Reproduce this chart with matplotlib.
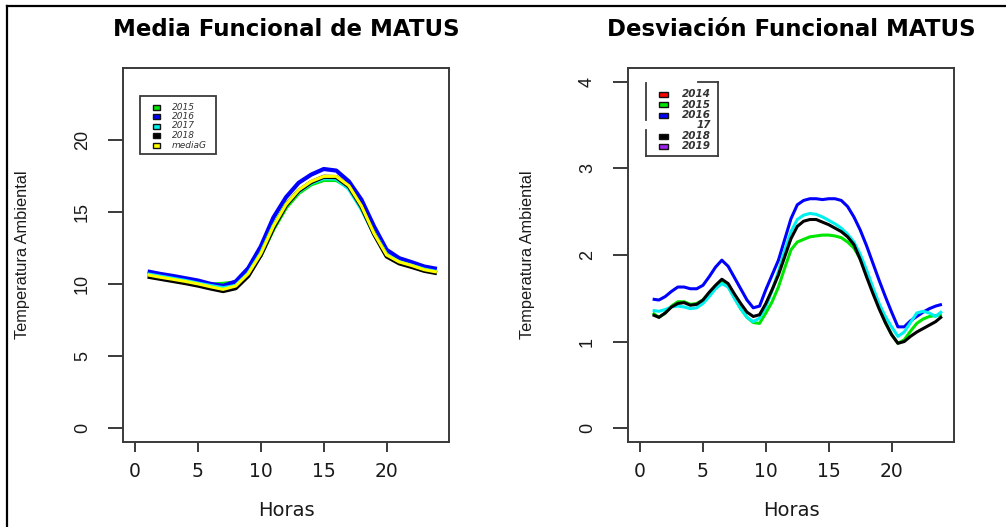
import matplotlib
matplotlib.use("Agg")
import matplotlib.pyplot as plt
from matplotlib.lines import Line2D
from matplotlib.patches import Rectangle
from matplotlib.transforms import Affine2D

# ---------------- data ----------------
horas = list(range(1, 25))
medias_horas = [1 + 0.5 * i for i in range(47)]

# functional mean temperature per year (hourly)
media_2015 = [10.60, 10.45, 10.30, 10.15, 10.00, 9.95, 10.00, 10.10, 10.75, 12.00, 13.80, 15.30,
              16.30, 16.90, 17.20, 17.20, 16.70, 15.40, 13.50, 12.00, 11.50, 11.25, 10.95, 10.80]
media_2016 = [10.86, 10.69, 10.55, 10.39, 10.23, 10.00, 9.86, 10.16, 11.09, 12.60, 14.60, 16.00,
              17.00, 17.57, 17.96, 17.85, 17.10, 15.83, 13.98, 12.36, 11.78, 11.50, 11.20, 11.04]
media_2017 = [10.65, 10.50, 10.35, 10.20, 10.02, 9.85, 9.70, 9.85, 10.70, 12.10, 14.00, 15.50,
              16.40, 17.00, 17.32, 17.30, 16.60, 15.20, 13.50, 12.00, 11.50, 11.25, 10.98, 10.82]
media_2018 = [10.50, 10.35, 10.20, 10.05, 9.88, 9.68, 9.50, 9.70, 10.55, 12.00, 13.90, 15.45,
              16.45, 17.05, 17.42, 17.40, 16.75, 15.35, 13.45, 11.90, 11.42, 11.17, 10.90, 10.74]
media_global = [10.62, 10.46, 10.32, 10.17, 10.00, 9.80, 9.62, 9.85, 10.70, 12.10, 14.00, 15.50,
                16.50, 17.10, 17.45, 17.45, 16.80, 15.40, 13.50, 12.00, 11.52, 11.27, 10.98, 10.82]

# functional standard deviation per year (half-hourly, 1:00 to 24:00)
desv_2015 = [1.33, 1.28, 1.33, 1.41, 1.46, 1.46, 1.43, 1.44, 1.48, 1.56, 1.64, 1.69,
             1.64, 1.51, 1.38, 1.28, 1.22, 1.21, 1.33, 1.46, 1.63, 1.85, 2.06, 2.15,
             2.18, 2.21, 2.22, 2.23, 2.23, 2.22, 2.20, 2.15, 2.08, 1.96, 1.81, 1.61,
             1.40, 1.22, 1.08, 0.98, 1.02, 1.12, 1.21, 1.26, 1.29, 1.30, 1.31]
desv_2016 = [1.49, 1.48, 1.52, 1.58, 1.63, 1.63, 1.61, 1.61, 1.65, 1.75, 1.86, 1.94,
             1.87, 1.74, 1.61, 1.48, 1.39, 1.41, 1.60, 1.77, 1.94, 2.18, 2.42, 2.58,
             2.63, 2.65, 2.65, 2.64, 2.65, 2.65, 2.63, 2.56, 2.44, 2.29, 2.11, 1.91,
             1.71, 1.52, 1.34, 1.17, 1.17, 1.24, 1.29, 1.34, 1.38, 1.41, 1.43]
desv_2017 = [1.36, 1.35, 1.37, 1.40, 1.41, 1.40, 1.38, 1.39, 1.44, 1.52, 1.61, 1.67,
             1.63, 1.50, 1.38, 1.28, 1.23, 1.27, 1.40, 1.59, 1.81, 2.05, 2.27, 2.41,
             2.46, 2.48, 2.47, 2.44, 2.40, 2.36, 2.31, 2.24, 2.15, 2.01, 1.83, 1.63,
             1.44, 1.29, 1.17, 1.06, 1.11, 1.22, 1.33, 1.35, 1.33, 1.29, 1.35]
desv_2018 = [1.31, 1.28, 1.33, 1.40, 1.44, 1.45, 1.42, 1.43, 1.48, 1.57, 1.65, 1.72,
             1.67, 1.55, 1.44, 1.34, 1.29, 1.31, 1.44, 1.60, 1.77, 1.98, 2.19, 2.33,
             2.39, 2.41, 2.41, 2.38, 2.35, 2.31, 2.27, 2.21, 2.12, 1.95, 1.75, 1.56,
             1.38, 1.22, 1.08, 0.98, 1.00, 1.06, 1.11, 1.15, 1.19, 1.23, 1.29]

x_ticks = [0, 5, 10, 15, 20]
y_ticks_media = [0, 5, 10, 15, 20]
y_ticks_desv = [0, 1, 2, 3, 4]

key_media_labels = ["2015", "2016", "2017", "2018", "mediaG"]
key_media_colours = ["#00e600", "#0000ff", "#00f0f0", "#000000", "#ffff00"]
key_desv_labels = ["2014", "2015", "2016", "17", "2018", "2019"]
key_desv_colours = ["#ff0000", "#00e600", "#0000ff", None, "#000000", "#a020f0"]

# ---------------- figure ----------------
W, H = 1006, 527
fig = plt.figure(figsize=(W / 100, H / 100), dpi=100)
fig.patch.set_facecolor("white")

# transform that places artists in figure pixels measured from the top-left corner
px = Affine2D().scale(1 / W, -1 / H).translate(0, 1) + fig.transFigure

TXT = "#1a1a1a"
EDGE = "#3a3a3a"


def frame_axes(left_px, right_px, top_px, bottom_px):
    return fig.add_axes([left_px / W, (H - bottom_px) / H,
                         (right_px - left_px) / W, (bottom_px - top_px) / H])


def style_axes(ax, yticks, ylim, title):
    ax.set_xlim(-0.96, 24.96)
    ax.set_ylim(ylim[0] - 0.04 * (ylim[1] - ylim[0]), ylim[1] + 0.04 * (ylim[1] - ylim[0]))
    ax.set_xticks(x_ticks)
    ax.set_yticks(yticks)
    for sp in ax.spines.values():
        sp.set_color(EDGE)
        sp.set_linewidth(1.4)
    ax.tick_params(axis="x", length=7.5, width=1.4, color=EDGE, pad=7,
                   labelsize=13.5, labelcolor=TXT)
    ax.tick_params(axis="y", length=11, width=1.4, color=EDGE, pad=12,
                   labelsize=12, labelcolor=TXT, labelrotation=90)
    for lab in ax.get_yticklabels():
        lab.set_verticalalignment("center")
        lab.set_fontfamily("Liberation Sans")
        lab.set_fontsize(13)
    ax.set_xlabel("Horas", fontsize=14, color=TXT, labelpad=14)
    ax.set_ylabel("Temperatura Ambiental", fontsize=11.8, color=TXT,
                  family="Liberation Sans", labelpad=32)
    ax.set_title(title, fontsize=16.5, fontweight="bold", color="#000000", pad=23)


def draw_key(labels, colours, sq_x, sq_w, sq_h, txt_x, ha, rows_y, fontsize, weight):
    for lab, col, y in zip(labels, colours, rows_y):
        if col is not None:
            fig.add_artist(Rectangle((sq_x - sq_w / 2, y - sq_h / 2), sq_w, sq_h,
                                     facecolor=col, edgecolor="#111111", linewidth=1.0,
                                     transform=px))
        fig.text(txt_x, y, lab, transform=px, ha=ha, va="center", fontsize=fontsize,
                 style="italic", weight=weight, color="#333333")


# ---------- left panel: functional mean ----------
ax1 = frame_axes(123, 449, 68, 442)
lw1 = 3.0
line_kw = dict(solid_capstyle="butt", solid_joinstyle="round")
ax1.plot(horas, media_2015, color=key_media_colours[0], lw=lw1, **line_kw)
ax1.plot(horas, media_2016, color=key_media_colours[1], lw=lw1, **line_kw)
ax1.plot(horas, media_2017, color=key_media_colours[2], lw=lw1, **line_kw)
ax1.plot(horas, media_2018, color=key_media_colours[3], lw=lw1, **line_kw)
ax1.plot(horas, media_global, color=key_media_colours[4], lw=lw1 * 0.75, **line_kw)
style_axes(ax1, y_ticks_media, (0, 24), "Media Funcional de MATUS")

# key box
fig.add_artist(Rectangle((140, 96), 76, 58, facecolor="none", edgecolor=EDGE,
                         linewidth=1.3, transform=px))
draw_key(key_media_labels, key_media_colours, 157, 7, 5, 172, "left",
         [107, 116.5, 126, 135.5, 145], 6.5, "normal")

# ---------- right panel: functional deviation ----------
ax2 = frame_axes(628, 954, 68, 442)
lw2 = 2.2
ax2.plot(medias_horas, desv_2015, color=key_desv_colours[1], lw=lw2, **line_kw)
ax2.plot(medias_horas, desv_2016, color=key_desv_colours[2], lw=lw2, **line_kw)
ax2.plot(medias_horas, desv_2017, color="#00f0f0", lw=lw2, **line_kw)
ax2.plot(medias_horas, desv_2018, color=key_desv_colours[4], lw=lw2, **line_kw)
style_axes(ax2, y_ticks_desv, (0, 4), "Desviación Funcional MATUS")

# key frame, partly hidden
for xs, ys in [((646, 646), (83, 120)), ((646, 646), (130, 156)),
               ((646, 718), (156, 156)), ((718, 718), (82, 156)),
               ((698, 718), (82, 82))]:
    fig.add_artist(Line2D(xs, ys, color=EDGE, linewidth=1.3, transform=px))
draw_key(key_desv_labels, key_desv_colours, 664, 9, 5, 711, "right",
         [94, 104.5, 115, 125, 136, 146], 7.5, "bold")

# outer frame
fig.add_artist(Line2D((7, W + 5), (6, 6), color="#000000", linewidth=1.6, transform=px))
fig.add_artist(Line2D((7, 7), (6, H + 5), color="#000000", linewidth=1.6, transform=px))

fig.savefig("out.png", dpi=100, facecolor="white")
